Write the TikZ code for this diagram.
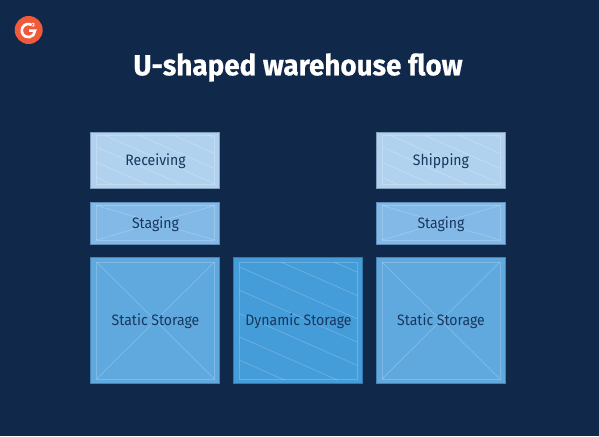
\documentclass[tikz,border=0pt]{standalone}
\usepackage{fontspec}
\setmainfont[FakeStretch=0.93,BoldFeatures={FakeStretch=0.96,FakeBold=0.6}]{Fira Sans}
\definecolor{bgc}{HTML}{10284A}
\definecolor{txtc}{HTML}{17375E}
\definecolor{recv}{HTML}{B1D2EF}
\definecolor{stag}{HTML}{82B9E6}
\definecolor{stat}{HTML}{60A9DF}
\definecolor{dyna}{HTML}{449CD9}
\definecolor{logoc}{HTML}{EE5A3A}
\newcommand{\crossin}[4]{%
  \draw[innerl] (#1,#2) rectangle (#3,#4);
  \draw[crossl] (#1,#2) -- (#3,#4) (#1,#4) -- (#3,#2);}
\newcommand{\hatchin}[6]{% x1 y1 x2 y2 firstoffset spacing(vertical)
  \begin{scope}
    \clip (#1,#2) rectangle (#3,#4);
    \foreach \k in {-8,...,8}{
      \draw[crossl] ({#1},{#5+\k*#6}) -- ({#3},{#5+\k*#6+(#3-#1)*0.44});
    }
  \end{scope}
  \draw[innerl] (#1,#2) rectangle (#3,#4);}
\begin{document}
\begin{tikzpicture}[x=1pt,y=-1pt,
  boxn/.style={rectangle,draw=bgc!30!#1,line width=0.6pt,fill=#1,minimum width=129pt,inner sep=0pt,outer sep=0pt,anchor=north west},
  lab/.style={text=txtc,font=\fontsize{15.1}{16}\selectfont,inner sep=0pt},
  innerl/.style={draw=white,draw opacity=0.2,line width=1pt},
  crossl/.style={draw=white,draw opacity=0.22,line width=0.7pt}]
\fill[bgc] (0,0) rectangle (599,436);
\useasboundingbox (0,0) rectangle (599,436);
% logo
\fill[logoc] (28.7,30) circle (14);
\begin{scope}[shift={(28.4,30.6)},y=1pt]
  \draw[white,line width=2.6pt] (60:6.6) arc (60:318:6.6) -- (6.6,0) -- (0.8,0);
\end{scope}
\node[text=white,font=\fontsize{5}{5}\selectfont\bfseries,inner sep=0pt] (logotwo) at (33.4,24.6) {2};
% title
\node[text=white,font=\fontsize{29}{32}\selectfont\bfseries,inner sep=0pt] (title) at (298,67.5) {U-shaped warehouse flow};
% boxes
\node[boxn=recv,minimum height=56pt] (b1) at (90.5,132) {};
\node[boxn=stag,minimum height=41.5pt] (b2) at (90.5,202.5) {};
\node[boxn=stat,minimum height=126pt] (b3) at (90.5,257.5) {};
\node[boxn=dyna,minimum height=126pt] (b4) at (233.5,257.5) {};
\node[boxn=recv,minimum height=56pt] (b5) at (376,132) {};
\node[boxn=stag,minimum height=41.5pt] (b6) at (376,202.5) {};
\node[boxn=stat,minimum height=126pt] (b7) at (376,257.5) {};
% inner patterns
\hatchin{96.5}{135.5}{214.5}{184}{147}{15.2}
\crossin{96.5}{205.5}{214.5}{240}
\crossin{96.5}{262}{214.5}{379}
\hatchin{239.5}{262}{357.5}{379}{267}{23.3}
\hatchin{382}{135.5}{500}{184}{147}{15.2}
\crossin{382}{205.5}{500}{240}
\crossin{382}{262}{500}{379}
% labels
\node[lab] (l1) at (155.5,161) {Receiving};
\node[lab] (l2) at (155.5,224) {Staging};
\node[lab] (l3) at (155.5,321) {Static Storage};
\node[lab] (l4) at (298.5,321) {Dynamic Storage};
\node[lab] (l5) at (441,161) {Shipping};
\node[lab] (l6) at (441,224) {Staging};
\node[lab] (l7) at (441,321) {Static Storage};
\end{tikzpicture}
\end{document}
